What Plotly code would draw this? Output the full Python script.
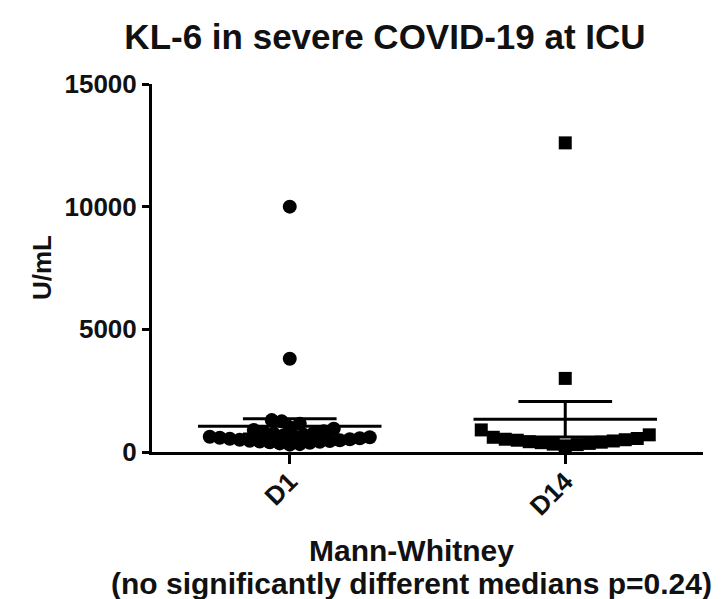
import numpy as np
import plotly.graph_objects as go

# KL-6 serum levels (U/mL) measured at ICU admission (D1) and day 14 (D14)
categories = ["D1", "D14"]
d1_values = [10000, 3800, 1300, 1250, 1150, 1000, 950, 900, 850, 800, 780, 750,
             700, 680, 650, 620, 600, 580, 560, 540, 520, 500, 480, 460, 450,
             430, 420, 400, 380, 350, 320, 300]
d14_values = [12600, 3000, 900, 700, 600, 550, 520, 500, 480, 450, 420, 400,
              380, 350, 320, 300, 250]
y_ticks = [0, 5000, 10000, 15000]

FONT = "Arial, Liberation Sans, sans-serif"
W, H = 724, 599
M_L, M_R, M_T, M_B = 152, 21, 84, 147
X_RANGE = [-0.5, 1.5]
Y_RANGE = [0, 15000]
px_per_x = (W - M_L - M_R) / (X_RANGE[1] - X_RANGE[0])
px_per_y = (H - M_T - M_B) / (Y_RANGE[1] - Y_RANGE[0])


def swarm_offsets(vals, ax, ay, step=2.0):
    """Beeswarm layout: spread points sideways, using an elliptical
    exclusion zone of half-axes ax (horizontal) and ay (vertical) in px."""
    order = np.argsort(vals)
    placed = []  # (x_px, y_px)
    offs = np.zeros(len(vals))
    for i in order:
        y = vals[i] * px_per_y
        k = 0
        while True:
            cands = [0.0] if k == 0 else [k * step, -k * step]
            ok = None
            for c in cands:
                if all(((c - px) / ax) ** 2 + ((y - py) / ay) ** 2 >= 1.0
                       for px, py in placed):
                    ok = c
                    break
            if ok is not None:
                placed.append((ok, y))
                offs[i] = ok / px_per_x
                break
            k += 1
    return offs


fig = go.Figure()
groups = [(d1_values, "circle", 9.0, 9.0), (d14_values, "square", 11.0, 22.0)]
for idx, (vals, sym, ax, ay) in enumerate(groups):
    v = np.array(vals, dtype=float)
    xs = idx + swarm_offsets(v, ax, ay)
    fig.add_trace(go.Scatter(
        x=xs, y=v, mode="markers", cliponaxis=False,
        marker=dict(symbol=sym, size=14 if sym == "circle" else 13, color="black",
                    line=dict(width=0)),
        showlegend=False, hoverinfo="y"))

    mean = v.mean()
    sem = v.std(ddof=1) / np.sqrt(len(v))
    # mean line
    fig.add_trace(go.Scatter(
        x=[idx - 0.333, idx + 0.333], y=[mean, mean], mode="lines",
        line=dict(color="black", width=3), showlegend=False, hoverinfo="skip"))
    # SEM whisker with caps
    cap = 0.17
    fig.add_trace(go.Scatter(
        x=[idx, idx, None, idx - cap, idx + cap, None, idx - cap, idx + cap],
        y=[mean - sem, mean + sem, None, mean + sem, mean + sem, None,
           mean - sem, mean - sem],
        mode="lines", line=dict(color="black", width=3),
        showlegend=False, hoverinfo="skip", cliponaxis=False))

fig.update_layout(
    width=W, height=H,
    margin=dict(l=M_L, r=M_R, t=M_T, b=M_B),
    paper_bgcolor="white", plot_bgcolor="white",
    font=dict(family=FONT, color="#111111"),
    title=dict(text="<b>KL-6 in severe COVID-19 at ICU</b>",
               font=dict(size=35, family=FONT, color="#111111"),
               x=385 / W, xref="container", xanchor="center",
               y=1 - 37 / H, yref="container", yanchor="middle"),
    xaxis=dict(range=X_RANGE, tickvals=[0, 1], ticktext=[f"<b>{c}</b>" for c in categories],
               tickangle=-45, ticks="outside", ticklen=9, tickwidth=2.5,
               tickcolor="black", showline=True, linecolor="black", linewidth=3,
               showgrid=False, zeroline=False, ticklabelstandoff=-8,
               tickfont=dict(size=26, family=FONT)),
    yaxis=dict(range=Y_RANGE, tickvals=y_ticks, ticktext=[f"<b>{t}</b>" for t in y_ticks],
               ticks="outside", ticklen=7, tickwidth=2.5, tickcolor="black",
               showline=True, linecolor="black", linewidth=3, showgrid=False,
               zeroline=False, tickfont=dict(size=26, family=FONT)),
    annotations=[
        dict(text="<b>U/mL</b>", textangle=-90, xref="paper", yref="paper",
             x=(42 - M_L) / (W - M_L - M_R), y=0.5, showarrow=False,
             font=dict(size=26, family=FONT), xanchor="center", yanchor="middle"),
        dict(text="<b>Mann-Whitney</b>", xref="paper", yref="paper",
             x=(411 - M_L) / (W - M_L - M_R), y=(H - M_B - 550) / (H - M_T - M_B),
             showarrow=False, font=dict(size=30, family=FONT),
             xanchor="center", yanchor="middle"),
        dict(text="<b>(no significantly different medians p=0.24)</b>", xref="paper",
             yref="paper", x=(411 - M_L) / (W - M_L - M_R),
             y=(H - M_B - 583) / (H - M_T - M_B), showarrow=False,
             font=dict(size=30, family=FONT), xanchor="center", yanchor="middle"),
    ],
)

fig.write_html("out.html")
